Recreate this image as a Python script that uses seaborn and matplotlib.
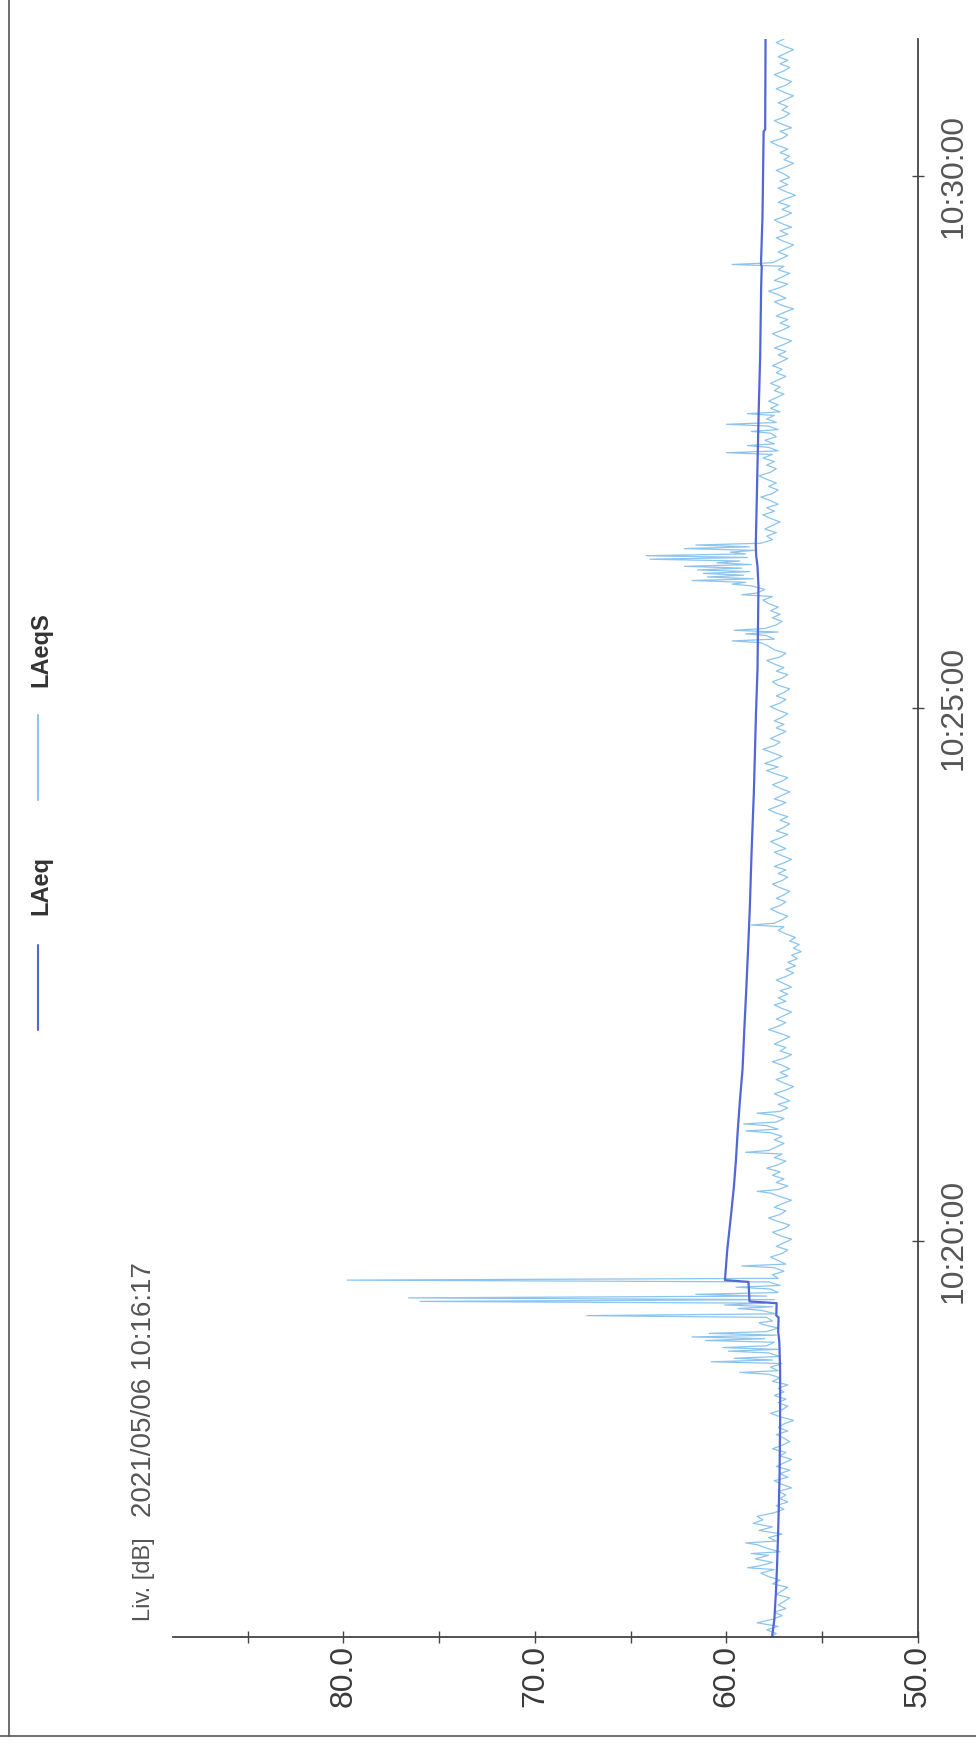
import numpy as np
import pandas as pd
import seaborn as sns
import matplotlib.pyplot as plt
from matplotlib.lines import Line2D

# ---- data (seconds after 10:16:17) ----
laeqs_step = 2
laeqs_db = [
    57.7, 57.4, 57.9, 57.3, 58.4, 57.6, 57.1, 57.5, 56.9, 57.3,
    57.0, 56.7, 57.4, 57.1, 56.8, 57.6, 57.2, 57.8, 58.2, 57.5,
    58.3, 57.6, 58.5, 57.8, 57.2, 57.9, 58.4, 57.4, 57.8, 57.1,
    58.3, 57.6, 58.6, 58.1, 58.4, 57.5, 57.0, 57.4, 56.8, 57.2,
    56.9, 57.3, 56.6, 57.1, 57.5, 56.8, 57.2, 56.7, 57.4, 57.0,
    56.6, 57.2, 56.9, 57.6, 57.1, 56.7, 57.0, 57.4, 56.8, 57.3,
    57.0, 56.5, 57.2, 57.7, 57.1, 56.8, 57.3, 56.9, 57.5, 57.0,
    57.3, 56.8, 57.6, 57.2, 57.8, 57.3, 57.7, 57.1, 57.6, 57.2,
    57.8, 57.3, 57.9, 57.5, 58.0, 57.4, 57.9, 57.3, 58.1, 57.6,
    57.9, 57.4, 58.2, 57.6, 58.0, 57.5, 57.9, 57.3, 57.7, 57.2,
    57.8, 57.3, 57.6, 57.0, 57.5, 56.9, 57.3, 57.7, 57.1, 56.8,
    57.4, 57.0, 56.6, 57.2, 57.6, 57.0, 56.7, 57.3, 57.8, 57.2,
    56.9, 57.5, 57.1, 56.6, 57.2, 57.7, 57.3, 56.8, 57.4, 57.0,
    57.6, 57.2, 57.9, 57.3, 56.9, 57.5, 57.1, 57.8, 57.4, 57.0,
    57.5, 57.1, 57.7, 57.3, 57.9, 57.4, 57.0, 57.6, 57.2, 56.8,
    57.3, 56.7, 57.1, 57.5, 56.9, 56.5, 57.0, 57.4, 56.8, 57.2,
    56.7, 57.1, 57.6, 57.0, 56.6, 57.2, 56.9, 57.5, 57.1, 56.7,
    57.2, 57.8, 57.3, 56.9, 57.4, 57.0, 56.6, 57.1, 57.5, 56.9,
    57.3, 56.8, 57.2, 56.6, 57.0, 57.4, 56.9, 56.5, 56.9, 56.4,
    56.8, 56.3, 56.6, 56.1, 56.5, 56.2, 56.7, 56.4, 56.9, 57.3,
    57.0, 57.5, 57.1, 56.8, 57.3, 57.7, 57.2, 56.9, 57.4, 57.0,
    56.7, 57.2, 57.6, 57.1, 56.8, 57.3, 56.9, 57.5, 57.0, 56.6,
    57.1, 57.5, 56.9, 57.3, 57.7, 57.2, 56.8, 57.4, 57.0, 56.7,
    57.2, 56.8, 57.4, 57.8, 57.3, 56.9, 57.5, 57.1, 56.7, 57.2,
    57.6, 57.1, 56.8, 57.4, 57.9, 57.3, 58.0, 57.5, 57.1, 57.6,
    58.1, 57.5, 57.2, 57.7, 57.3, 56.9, 57.4, 57.0, 57.5, 57.1,
    56.8, 57.3, 57.7, 57.2, 56.9, 57.4, 57.0, 56.7, 57.3, 57.6,
    57.1, 56.8, 57.4, 57.0, 57.5, 57.9, 57.2, 56.9, 57.5, 57.8,
    58.2, 57.5, 57.9, 57.3, 58.0, 57.4, 57.1, 57.6, 57.2, 57.7,
    57.3, 57.8, 58.1, 57.6, 58.4, 58.0, 58.7, 59.0, 58.6, 59.1,
    58.8, 59.2, 58.7, 59.3, 58.9, 59.0, 58.5, 58.8, 58.2, 57.6,
    57.9, 57.4, 58.0, 57.6, 57.2, 57.7, 58.1, 57.5, 57.9, 57.3,
    57.7, 58.2, 57.6, 57.3, 57.8, 57.4, 57.9, 58.3, 57.7, 57.4,
    57.9, 57.5, 58.1, 57.6, 57.3, 57.8, 57.5, 58.0, 57.4, 57.7,
    57.3, 57.8, 57.4, 57.9, 57.5, 57.2, 57.7, 57.3, 57.8, 57.4,
    57.0, 57.5, 57.2, 57.7, 57.3, 56.9, 57.4, 57.1, 57.6, 57.2,
    56.8, 57.3, 56.9, 57.5, 57.0, 56.6, 57.2, 57.6, 57.1, 56.7,
    57.2, 56.8, 57.4, 57.0, 56.5, 57.1, 57.5, 56.9, 57.3, 57.8,
    57.2, 56.8, 57.5, 57.1, 56.7, 57.3, 57.0, 57.6, 57.2, 56.8,
    57.3, 56.9, 56.5, 57.0, 57.4, 56.8, 57.2, 56.6, 57.1, 57.5,
    57.0, 56.6, 57.1, 56.7, 57.3, 56.9, 56.4, 56.9, 57.3, 56.8,
    57.2, 56.7, 57.0, 57.4, 56.9, 56.5, 57.0, 56.7, 57.2, 56.8,
    57.3, 57.7, 57.1, 56.8, 57.2, 56.6, 57.1, 57.5, 57.0, 56.7,
    57.1, 56.8, 57.3, 56.9, 56.5, 57.0, 57.4, 56.9, 56.6, 57.1,
    57.5, 57.0, 56.7, 57.2, 56.8, 57.3, 56.9, 56.5, 57.0, 57.4,
    57.0,
]

spike_t = [39, 47, 53, 149, 155, 157, 161, 163, 167, 169, 171, 177, 181,
           185, 187, 189, 191, 193, 197, 201, 209, 251, 273, 285, 289, 295,
           401, 561, 565, 567, 587, 593, 595, 597, 599, 601, 603, 605, 607,
           609, 611, 613, 615, 667, 671, 679, 683, 689, 773]
spike_db = [58.9, 58.7, 59.0, 59.3, 60.8, 59.6, 59.9, 60.2, 61.1, 61.8, 60.9,
            58.3, 67.3, 59.4, 60.1, 76.0, 76.6, 61.6, 59.5, 79.8, 59.2, 58.4,
            59.0, 59.0, 59.1, 58.4, 58.7, 59.7, 59.0, 59.6, 59.2, 59.7, 61.8,
            61.0, 61.2, 61.5, 62.2, 60.5, 64.0, 64.2, 59.8, 62.2, 61.6, 60.0,
            58.9, 58.7, 60.0, 58.9, 59.7]

laeq_t = [0, 10, 25, 40, 60, 90, 120, 150, 166, 172, 180, 181, 188, 189, 200,
          201, 218, 229, 240, 254, 268, 284, 302, 320, 342, 364, 388, 411,
          442, 476, 520, 545, 592, 603, 609, 615, 660, 690, 722, 760, 772,
          773, 800, 848, 849, 900]
laeq_db = [57.62, 57.5, 57.42, 57.36, 57.3, 57.23, 57.2, 57.2, 57.24, 57.3,
           57.28, 57.4, 57.38, 58.8, 58.85, 60.08, 59.96, 59.85, 59.74, 59.61,
           59.51, 59.42, 59.3, 59.16, 59.07, 58.97, 58.87, 58.78, 58.69, 58.57,
           58.46, 58.38, 58.33, 58.38, 58.45, 58.47, 58.38, 58.32, 58.24,
           58.19, 58.16, 58.2, 58.12, 58.06, 57.98, 57.96]

time_ticks = [223, 523, 823]
time_labels = ["10:20:00", "10:25:00", "10:30:00"]
db_ticks = [50, 60, 70, 80]
db_minor = [55, 65, 75, 85]

C_LAEQ = "#5266d6"
C_LAEQS = "#8cc4ee"
GREY = "#444444"

# ---- build tables ----
base = pd.DataFrame({"t": np.arange(len(laeqs_db)) * laeqs_step, "db": laeqs_db})
spikes = pd.DataFrame({"t": spike_t, "db": spike_db})
laeqs = pd.concat([base, spikes]).sort_values("t").reset_index(drop=True)
laeq = pd.DataFrame({"t": laeq_t, "db": laeq_db})

sns.set_theme(style="white")
plt.rcParams["font.family"] = ["Liberation Sans", "DejaVu Sans"]

W, H = 976, 1744
fig = plt.figure(figsize=(W / 100, H / 100), dpi=100)
ax = fig.add_axes([173 / W, 1 - 1637 / H, (918 - 173) / W, (1637 - 39) / H])

sns.lineplot(data=laeqs, x="db", y="t", orient="y", sort=False, estimator=None,
             color=C_LAEQS, linewidth=0.9, ax=ax)
sns.lineplot(data=laeq, x="db", y="t", orient="y", sort=False, estimator=None,
             color=C_LAEQ, linewidth=1.6, ax=ax)

ax.set_xlim(88.9, 50)
ax.set_ylim(0, 900)
ax.set_xlabel("")
ax.set_ylabel("")

for s in ["top", "left"]:
    ax.spines[s].set_visible(False)
for s in ["right", "bottom"]:
    ax.spines[s].set_color(GREY)
    ax.spines[s].set_linewidth(1.3)

ax.yaxis.tick_right()
ax.set_xticks(db_ticks)
ax.set_xticklabels([f"{v:.1f}" for v in db_ticks], rotation=90)
ax.set_xticks(db_minor, minor=True)
ax.set_yticks(time_ticks)
ax.set_yticklabels(time_labels, rotation=90)

ax.tick_params(axis="x", which="both", direction="inout", length=8, width=1,
               color=GREY, labelsize=23, labelcolor="#3a3a3a", pad=1.5,
               bottom=True)
ax.tick_params(axis="y", direction="inout", length=8, width=1, color=GREY,
               labelsize=23, labelcolor="#555555", pad=11, right=True, left=False)
for lab in ax.get_yticklabels():
    lab.set_va("center")

# header text
fig.text(144 / W, 1 - 1621 / H, "Liv. [dB]", rotation=90, ha="center",
         va="bottom", fontsize=17, color="#555555")
fig.text(144 / W, 1 - 1517 / H, "2021/05/06 10:16:17", rotation=90,
         ha="center", va="bottom", fontsize=20, color="#555555")

# legend (rotated)
fig.add_artist(Line2D([38 / W, 38 / W], [1 - 1030 / H, 1 - 945 / H],
                      color=C_LAEQ, lw=1.5))
fig.text(41 / W, 1 - 915 / H, "LAeq", rotation=90, ha="center", va="bottom",
         fontsize=17, fontweight="bold", color="#333333")
fig.add_artist(Line2D([38 / W, 38 / W], [1 - 800 / H, 1 - 715 / H],
                      color=C_LAEQS, lw=1.5))
fig.text(41 / W, 1 - 687 / H, "LAeqS", rotation=90, ha="center", va="bottom",
         fontsize=17, fontweight="bold", color="#333333")

# page border
fig.add_artist(Line2D([9 / W, 9 / W], [1 - 1736 / H, 1.0], color="#555555", lw=1.2))
fig.add_artist(Line2D([0.0, 1.0], [1 - 1736 / H, 1 - 1736 / H], color="#555555", lw=1.2))

fig.savefig("out.png", dpi=100)
